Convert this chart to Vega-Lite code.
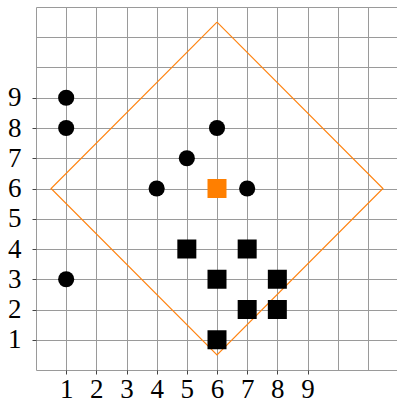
{
  "$schema": "https://vega.github.io/schema/vega-lite/v6.json",
  "width": 362,
  "height": 363,
  "autosize": {"type": "none"},
  "padding": {"left": 36, "top": 7, "right": 0, "bottom": 34},
  "background": "white",
  "config": {
    "view": {"stroke": null},
    "font": "Liberation Serif",
    "axis": {
      "labelFont": "Liberation Serif",
      "labelFontSize": 26,
      "labelColor": "black",
      "domain": false,
      "gridColor": "#9a9a9a",
      "gridWidth": 1,
      "gridOpacity": 1,
      "tickColor": "#444",
      "tickSize": 4,
      "title": null
    }
  },
  "datasets": {
    "points": [
      {"x": 1, "y": 9, "kind": "circle", "group": "black"},
      {"x": 1, "y": 8, "kind": "circle", "group": "black"},
      {"x": 6, "y": 8, "kind": "circle", "group": "black"},
      {"x": 5, "y": 7, "kind": "circle", "group": "black"},
      {"x": 4, "y": 6, "kind": "circle", "group": "black"},
      {"x": 7, "y": 6, "kind": "circle", "group": "black"},
      {"x": 1, "y": 3, "kind": "circle", "group": "black"},
      {"x": 5, "y": 4, "kind": "square", "group": "black"},
      {"x": 7, "y": 4, "kind": "square", "group": "black"},
      {"x": 6, "y": 3, "kind": "square", "group": "black"},
      {"x": 8, "y": 3, "kind": "square", "group": "black"},
      {"x": 7, "y": 2, "kind": "square", "group": "black"},
      {"x": 8, "y": 2, "kind": "square", "group": "black"},
      {"x": 6, "y": 1, "kind": "square", "group": "black"},
      {"x": 6, "y": 6, "kind": "square", "group": "orange"}
    ],
    "diamond": [
      {"x": 6, "y": 11.5, "order": 0},
      {"x": 0.5, "y": 6, "order": 1},
      {"x": 6, "y": 0.5, "order": 2},
      {"x": 11.5, "y": 6, "order": 3},
      {"x": 6, "y": 11.5, "order": 4}
    ]
  },
  "encoding": {
    "x": {
      "field": "x", "type": "quantitative",
      "scale": {"domain": [0, 12], "nice": false, "zero": false},
      "axis": {
        "values": [0, 1, 2, 3, 4, 5, 6, 7, 8, 9, 10, 11, 12],
        "labelExpr": "datum.value >= 1 && datum.value <= 9 ? datum.label : ''",
        "tickOpacity": {"condition": {"test": "datum.value >= 1 && datum.value <= 9", "value": 1}, "value": 0},
        "labelFont": "Liberation Serif",
        "labelFontSize": 27,
        "labelPadding": 2,
        "labelFlush": false,
        "labelOverlap": false
      }
    },
    "y": {
      "field": "y", "type": "quantitative",
      "scale": {"domain": [0, 12], "nice": false, "zero": false},
      "axis": {
        "values": [0, 1, 2, 3, 4, 5, 6, 7, 8, 9, 10, 11, 12],
        "labelExpr": "datum.value >= 1 && datum.value <= 9 ? datum.label : ''",
        "tickOpacity": {"condition": {"test": "datum.value >= 1 && datum.value <= 9", "value": 1}, "value": 0},
        "labelFont": "Liberation Serif",
        "labelFontSize": 27,
        "labelPadding": 11,
        "labelFlush": false,
        "labelOverlap": false
      }
    }
  },
  "layer": [
    {
      "data": {"name": "diamond"},
      "mark": {"type": "line", "color": "#ff8411", "strokeWidth": 1.2},
      "encoding": {
        "order": {"field": "order", "type": "quantitative"}
      }
    },
    {
      "data": {"name": "points"},
      "mark": {"type": "point", "filled": true, "opacity": 1},
      "encoding": {
        "shape": {
          "field": "kind", "type": "nominal",
          "scale": {"domain": ["circle", "square"], "range": ["circle", "square"]},
          "legend": null
        },
        "size": {
          "field": "kind", "type": "nominal",
          "scale": {"domain": ["circle", "square"], "range": [260, 361]},
          "legend": null
        },
        "color": {
          "field": "group", "type": "nominal",
          "scale": {"domain": ["black", "orange"], "range": ["#000000", "#ff7f00"]},
          "legend": null
        }
      }
    }
  ]
}
